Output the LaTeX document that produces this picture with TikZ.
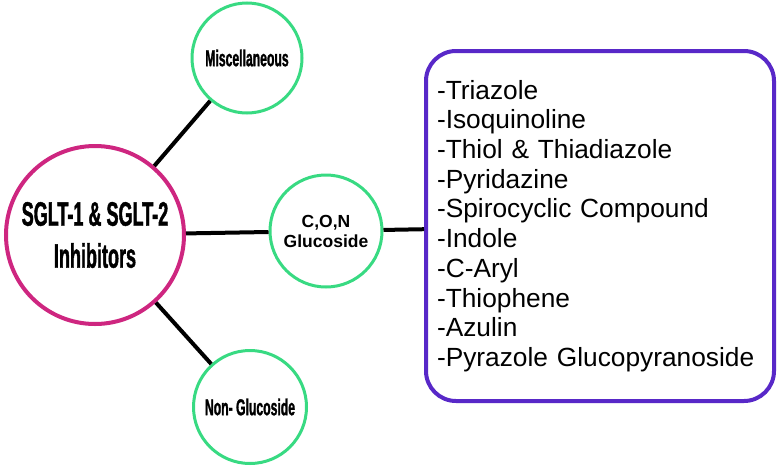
\documentclass[tikz,border=0pt]{standalone}
\usepackage{fontspec}
\setmainfont{Liberation Sans}
\newfontfamily\narrowfont[FakeStretch=0.53, FakeBold=1.2]{Liberation Sans}
\usepackage{tikz}
\usetikzlibrary{arrows.meta, shapes.geometric}
\definecolor{hubpink}{RGB}{206,38,128}
\definecolor{leafgreen}{RGB}{56,218,130}
\definecolor{listpurple}{RGB}{88,40,200}
\tikzset{
    hub/.style={circle, draw=hubpink, line width=4pt, fill=white, minimum size=178pt, inner sep=0pt, align=center,
        font=\narrowfont\bfseries\fontsize{34}{42}\selectfont},
    leaf/.style={circle, draw=leafgreen, line width=3pt, fill=white, minimum size=110pt, inner sep=0pt, align=center,
        font=\narrowfont\bfseries\fontsize{23}{26}\selectfont},
    listbox/.style={draw=listpurple, line width=4pt, rounded corners=30pt, fill=white, minimum width=348pt, minimum height=350pt,
        text width=326pt, inner xsep=11pt, align=left, font=\fontsize{26.3}{29.7}\selectfont},
    link/.style={line width=4pt, black}
}

\begin{document}
\begin{tikzpicture}[x=1pt, y=-1pt]
    \useasboundingbox (0,0) rectangle (778,466);
    % circles
    \node[hub] (inhib) at (95,235) {SGLT-1 \& SGLT-2\\Inhibitors};
    \node[leaf] (misc) at (247,58) {Miscellaneous};
    \node[leaf, minimum size=112pt, font=\bfseries\fontsize{17.5}{20}\selectfont] (con) at (326,231) {C,O,N\\Glucoside};
    \node[leaf, minimum size=113pt] (nongluc) at (250,407) {Non- Glucoside};
    % list of compounds
    \node[listbox] (types) at (600,226) {-Triazole\\
        -Isoquinoline\\
        -Thiol \& Thiadiazole\\
        -Pyridazine\\
        -Spirocyclic Compound\\
        -Indole\\
        -C-Aryl\\
        -Thiophene\\
        -Azulin\\
        -Pyrazole Glucopyranoside};
    % connectors
    \draw[link] (inhib) -- (misc);
    \draw[link] (inhib) -- (con);
    \draw[link] (inhib) -- (nongluc);
    \draw[link] (con) -- (types);
\end{tikzpicture}
\end{document}
